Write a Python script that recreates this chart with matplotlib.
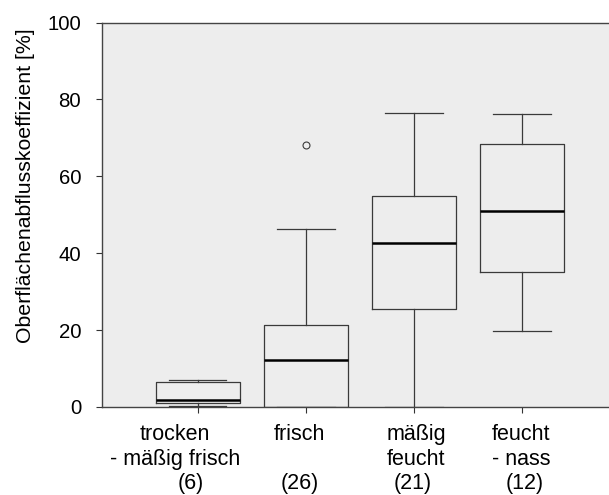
import matplotlib
matplotlib.use("Agg")
import matplotlib.pyplot as plt
from matplotlib.transforms import blended_transform_factory

plt.rcParams['font.family'] = ['Liberation Sans', 'DejaVu Sans']

# Oberflächenabflusskoeffizient je Feuchtestufe
names = [("trocken", "- mäßig frisch"), ("frisch", ""), ("mäßig", "feucht"), ("feucht", "- nass")]
counts = ["(6)", "(26)", "(21)", "(12)"]
whislo = [0.3, 0.0, 0.0, 19.8]
q1 = [1.0, 0.0, 25.5, 35.1]
med = [1.8, 12.2, 42.7, 51.0]
q3 = [6.5, 21.3, 54.9, 68.4]
whishi = [7.0, 46.3, 76.5, 76.2]
fliers = [[], [68.1], [], []]

stats = []
for i in range(len(names)):
    stats.append(dict(whislo=whislo[i], q1=q1[i], med=med[i], q3=q3[i],
                      whishi=whishi[i], fliers=fliers[i]))

fig = plt.figure(figsize=(6.09, 4.95), dpi=100)
ax = fig.add_axes([0.1675, 0.1778, 0.8325, 0.7767])
ax.set_facecolor('#ededed')

pos = [1, 2, 3, 4]
line = dict(color='#3a3a3a', linewidth=0.9)
ax.bxp(stats, positions=pos, widths=0.776, capwidths=0.535,
       boxprops=line, whiskerprops=line, capprops=line,
       medianprops=dict(color='black', linewidth=1.8),
       flierprops=dict(marker='o', markersize=5, markerfacecolor='none',
                       markeredgecolor='#3a3a3a', markeredgewidth=0.8))

ax.set_xlim(0.118, 4.80)
ax.set_ylim(0, 100)
ax.set_yticks([0, 20, 40, 60, 80, 100])
ax.set_xticks(pos)
ax.set_xticklabels([])
ax.tick_params(axis='y', labelsize=14.7, length=4, pad=11, color='#333333')
ax.tick_params(axis='x', length=4, color='#333333')
ax.set_ylabel("Oberflächenabflusskoeffizient [%]", fontsize=15.3)
ax.yaxis.set_label_coords(-0.132, 0.575)

# Kategorienamen (zwei Zeilen) und Stichprobenumfang darunter
trans = blended_transform_factory(ax.transData, ax.transAxes)
name_shift = [-0.21, -0.06, 0.02, -0.01]
count_shift = [-0.06, -0.06, -0.01, 0.02]
for p, (l1, l2), n, dn, dc in zip(pos, names, counts, name_shift, count_shift):
    ax.text(p + dn, -0.0857, l1, transform=trans, ha='center', va='baseline', fontsize=15.5)
    ax.text(p + dn, -0.1506, l2, transform=trans, ha='center', va='baseline', fontsize=15.5)
    ax.text(p + dc, -0.213, n, transform=trans, ha='center', va='baseline', fontsize=15.5)

ax.spines['right'].set_visible(False)
for s in ['left', 'top', 'bottom']:
    ax.spines[s].set_color('#444444')
    ax.spines[s].set_linewidth(1.0)

fig.savefig("out.png", dpi=100)
